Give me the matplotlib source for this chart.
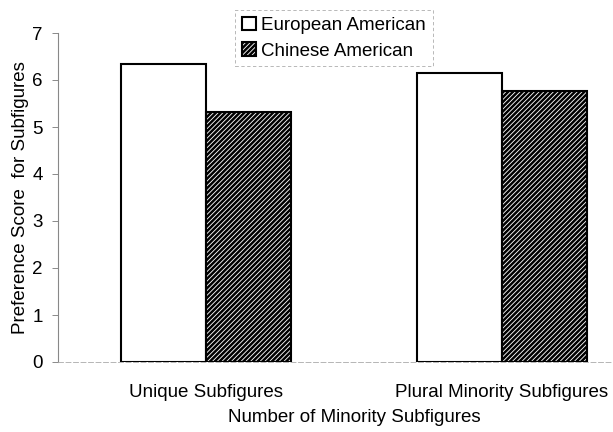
import matplotlib
matplotlib.use("Agg")
import matplotlib.pyplot as plt
import numpy as np

categories = ["Unique Subfigures", "Plural Minority Subfigures"]
series_names = ["European American", "Chinese American"]
european = [6.33, 6.15]
chinese = [5.32, 5.77]
yticks = [0, 1, 2, 3, 4, 5, 6, 7]

plt.rcParams['font.family'] = ['Liberation Sans', 'DejaVu Sans']
plt.rcParams['hatch.linewidth'] = 1.8

FS = 13.5
fig = plt.figure(figsize=(6.13, 4.32), dpi=100)
ax = fig.add_axes([58/613, 1-362/432, 1-58/613, (362-33)/432])

x = np.arange(len(categories))
w = 0.287
ax.bar(x - w/2, european, width=w, facecolor='white', edgecolor='black', linewidth=1.5,
       label=series_names[0])
ax.bar(x + w/2, chinese, width=w, facecolor='white', edgecolor='black', linewidth=1.5,
       hatch='///////', label=series_names[1])

ax.set_xlim(-0.5, 1.375)
ax.set_ylim(0, 7)
ax.set_yticks(yticks)
ax.set_xticks(x)
ax.set_xticklabels(categories, fontsize=FS)
ax.tick_params(axis='x', length=0, pad=16)
ax.tick_params(axis='y', length=4, width=0.6, color='#777777', labelsize=FS, pad=7)

for s in ['top', 'right']:
    ax.spines[s].set_visible(False)
ax.spines['left'].set_color('#888888')
ax.spines['left'].set_linewidth(0.8)
ax.spines['bottom'].set_color('#aaaaaa')
ax.spines['bottom'].set_linewidth(0.6)
ax.spines['bottom'].set_linestyle((0, (6, 3)))

ax.set_ylabel("Preference Score  for Subfigures", fontsize=FS)
ax.yaxis.set_label_coords(-(58-29)/555, 0.5)
ax.set_xlabel("Number of Minority Subfigures", fontsize=FS)
ax.xaxis.set_label_coords((354-58)/(613-58), -(409-362)/329)

leg = ax.legend(loc='upper center', bbox_to_anchor=(334/613, 1-10/432),
                bbox_transform=fig.transFigure, borderaxespad=0, fontsize=FS,
                frameon=True, fancybox=False, handlelength=0.75, handleheight=0.75,
                handletextpad=0.3, borderpad=0.35, labelspacing=0.45)
leg.get_frame().set_edgecolor('#999999')
leg.get_frame().set_linewidth(0.6)
leg.get_frame().set_linestyle((0, (4, 3)))

fig.savefig("out.png", dpi=100)
